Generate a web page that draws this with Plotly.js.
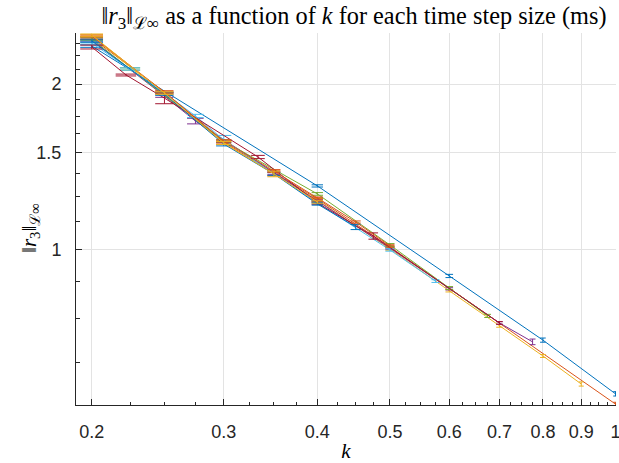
<!DOCTYPE html>
<html>
<head>
<meta charset="utf-8">
<script src="https://cdn.plot.ly/plotly-3.0.1.min.js"></script>
<style>html,body{margin:0;padding:0;background:#fff;}#chart{width:619px;height:463px;}</style>
</head>
<body>
<div id="chart"></div>
<script>
// ---- data ----
const k1 = [0.2, 0.4, 0.6, 0.8, 1.0];
const v1 = [2.345, 1.307, 0.897, 0.686, 0.548];
const e1 = [0.012, 0.006, 0.006, 0.006, 0.005];

const k2 = [0.2, 0.25, 0.3, 0.35, 0.4, 0.5, 1.0];
const v2 = [2.425, 1.935, 1.570, 1.380, 1.238, 1.013, 0.525];
const e2 = [0.015, 0.010, 0.012, 0.016, 0.006, 0.005, 0.004];

const k3 = [0.2, 0.3, 0.4, 0.5, 0.6, 0.7, 0.8, 0.9];
const v3 = [2.446, 1.564, 1.232, 1.004, 0.843, 0.728, 0.642, 0.571];
const e3 = [0.012, 0.010, 0.008, 0.005, 0.004, 0.004, 0.004, 0.005];

const k4 = [0.2, 0.25, 0.275, 0.35, 0.4, 0.5, 0.6, 0.7, 0.775];
const v4 = [2.405, 1.903, 1.714, 1.380, 1.227, 1.008, 0.850, 0.737, 0.681];
const e4 = [0.012, 0.010, 0.020, 0.008, 0.006, 0.005, 0.004, 0.004, 0.008];

const k5 = [0.2, 0.225, 0.3, 0.4, 0.5, 0.6, 0.675];
const v5 = [2.415, 2.131, 1.577, 1.264, 1.021, 0.853, 0.759];
const e5 = [0.012, 0.010, 0.008, 0.007, 0.006, 0.005, 0.005];

const k6 = [0.2, 0.225, 0.25, 0.275, 0.3, 0.4, 0.5, 0.575];
const v6 = [2.375, 2.131, 1.927, 1.751, 1.584, 1.217, 1.000, 0.878];
const e6 = [0.010, 0.010, 0.010, 0.012, 0.030, 0.006, 0.005, 0.005];

const k7 = [0.2, 0.2222, 0.25, 0.3333, 0.4, 0.475, 0.7];
const v7 = [2.336, 2.078, 1.887, 1.475, 1.217, 1.060, 0.737];
const e7 = [0.019, 0.008, 0.044, 0.010, 0.006, 0.014, 0.004];

const k8 = [0.2, 0.25, 0.3, 0.35, 0.4, 0.45];
const v8 = [2.395, 1.919, 1.557, 1.374, 1.212, 1.101];
const e8 = [0.012, 0.010, 0.012, 0.008, 0.006, 0.012];

const k9 = [0.2, 0.25, 0.3, 0.35, 0.4, 0.45, 0.5];
const v9 = [2.446, 1.935, 1.577, 1.391, 1.243, 1.124, 1.017];
const e9 = [0.010, 0.008, 0.008, 0.008, 0.005, 0.005, 0.005];

const k10 = [0.2, 0.25, 0.3, 0.35, 0.4];
const v10 = [2.455, 1.927, 1.564, 1.374, 1.222];
const e10 = [0.012, 0.010, 0.010, 0.016, 0.006];

const xTickVals = [0.2, 0.3, 0.4, 0.5, 0.6, 0.7, 0.8, 0.9, 1];
const xTickText = ['0.2', '0.3', '0.4', '0.5', '0.6', '0.7', '0.8', '0.9', '1'];
const xMinorVals = [0.225, 0.25, 0.275, 0.325, 0.35, 0.375, 0.425, 0.45, 0.475,
  0.525, 0.55, 0.575, 0.625, 0.65, 0.675, 0.725, 0.75, 0.775, 0.825, 0.85, 0.875,
  0.925, 0.95, 0.975];
const yTickVals = [1, 1.5, 2];
const yTickText = ['1', '1.5', '2'];
const yMinorVals = [0.625, 0.75, 0.875, 1.125, 1.25, 1.375, 1.625, 1.75, 1.875, 2.125, 2.25, 2.375];

// ---- styling ----
const colors = ['#0072BD', '#D95319', '#EDB120', '#7E2F8E', '#77AC30', '#4DBEEE', '#A2142F'];
const capHalf = 0.007; // cap half-length in k units
const series = [
  [k1, v1, e1], [k2, v2, e2], [k3, v3, e3], [k4, v4, e4], [k5, v5, e5],
  [k6, v6, e6], [k7, v7, e7], [k8, v8, e8], [k9, v9, e9], [k10, v10, e10]
];

const traces = [];
series.forEach((s, i) => {
  const [k, v, e] = s;
  const c = colors[i % colors.length];
  traces.push({
    type: 'scatter', mode: 'lines', x: k, y: v,
    line: {color: c, width: 1},
    hoverinfo: 'skip'
  });
  // error bars: vertical stem plus top and bottom caps, built from the data arrays
  const bx = [], by = [];
  k.forEach((kk, j) => {
    const hi = v[j] + e[j], lo = v[j] - e[j];
    bx.push(kk, kk, null);              by.push(lo, hi, null);
    bx.push(kk - capHalf, kk + capHalf, null); by.push(hi, hi, null);
    bx.push(kk - capHalf, kk + capHalf, null); by.push(lo, lo, null);
  });
  traces.push({
    type: 'scatter', mode: 'lines', x: bx, y: by,
    line: {color: c, width: 1}, connectgaps: false,
    hoverinfo: 'skip'
  });
});

const axisColor = '#262626';
const tickFont = {family: 'Liberation Sans, Arial, sans-serif', size: 18, color: axisColor};
const serif = 'Liberation Serif, DejaVu Serif, serif';

const layout = {
  width: 619, height: 463,
  margin: {l: 76, r: 3, t: 33, b: 58},
  showlegend: false,
  paper_bgcolor: '#ffffff', plot_bgcolor: '#ffffff',
  title: {
    text: '‖<i>r</i><sub>3</sub>‖<sub>ℒ∞</sub> as a function of <i>k</i> for each time step size (ms)',
    font: {family: serif, size: 24.3, color: '#000000'},
    x: 0.5 + 8 / 540, xref: 'paper', xanchor: 'center',
    y: 1 - 15 / 463, yref: 'container', yanchor: 'middle'
  },
  xaxis: {
    type: 'log', range: [Math.log10(0.1905), Math.log10(1.0015)],
    tickmode: 'array', tickvals: xTickVals, ticktext: xTickText,
    ticks: 'inside', ticklen: 6, tickwidth: 1, tickcolor: axisColor,
    showline: true, linecolor: axisColor, linewidth: 1, mirror: false,
    showgrid: true, gridcolor: '#e3e3e3', gridwidth: 1, zeroline: false,
    tickfont: tickFont, ticklabelstandoff: 10, ticklabeloverflow: 'allow',
    minor: {tickmode: 'array', tickvals: xMinorVals, ticks: 'inside', ticklen: 3.5, tickwidth: 1, tickcolor: axisColor, showgrid: false},
    title: {text: '<i>k</i>', font: {family: serif, size: 21, color: '#000000'}, standoff: 2}
  },
  yaxis: {
    type: 'log', range: [Math.log10(0.523), Math.log10(2.477)],
    tickmode: 'array', tickvals: yTickVals, ticktext: yTickText,
    ticks: 'inside', ticklen: 6, tickwidth: 1, tickcolor: axisColor,
    showline: true, linecolor: axisColor, linewidth: 1, mirror: false,
    showgrid: true, gridcolor: '#e3e3e3', gridwidth: 1, zeroline: false,
    tickfont: tickFont, ticklabelstandoff: 10,
    minor: {tickmode: 'array', tickvals: yMinorVals, ticks: 'inside', ticklen: 3.5, tickwidth: 1, tickcolor: axisColor, showgrid: false}
  },
  annotations: [{
    text: '‖<i>r</i><sub>3</sub>‖<sub>ℒ∞</sub>',
    xref: 'paper', yref: 'paper',
    x: (30 - 76) / 540, y: (405 - 228) / 372,
    xanchor: 'center', yanchor: 'middle', textangle: -90, showarrow: false,
    font: {family: serif, size: 21, color: '#000000'}
  }]
};

Plotly.newPlot('chart', traces, layout, {displayModeBar: false, staticPlot: true});
</script>
</body>
</html>
